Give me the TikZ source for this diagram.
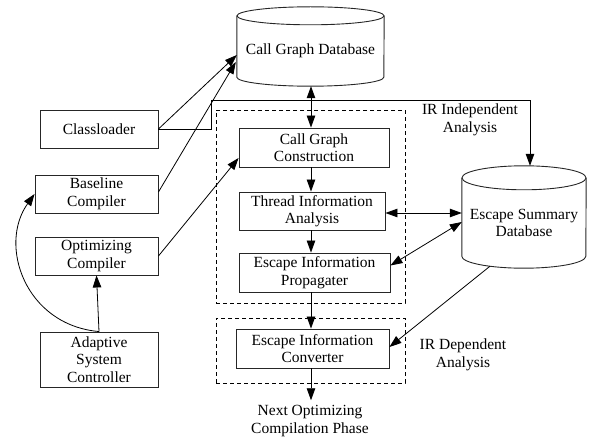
\documentclass[tikz,border=0pt]{standalone}
\usepackage{fontspec}
\setmainfont{Liberation Serif}
\usetikzlibrary{arrows.meta,calc}
\tikzset{
  txt/.style={font=\fontsize{15.5}{17.5}\selectfont, align=center, inner sep=0pt},
  box/.style={txt, draw=black!85, line width=0.9pt, minimum width=#1},
  box/.default=120pt,
  dashbox/.style={draw, line width=0.8pt, dash pattern=on 4pt off 3pt, inner sep=0pt},
  dbshape/.style={draw=black!85, line width=0.9pt},
  arr/.style={line width=0.8pt, -{Triangle[length=12pt,width=8.5pt]}},
  dbl/.style={line width=0.8pt, {Triangle[length=12pt,width=8.5pt]}-{Triangle[length=12pt,width=8.5pt]}}
}
\begin{document}
\begin{tikzpicture}[x=1pt,y=-1pt]
\useasboundingbox (0,0) rectangle (592,441);

% databases
\node[txt, minimum width=147pt, minimum height=70pt] (cgdb) at (310.5,51) {Call Graph Database};
\draw[dbshape] (cgdb.north) ellipse[x radius=73.5pt, y radius=9pt];
\draw[dbshape] (cgdb.north west) -- ($(cgdb.south west)+(0,-9)$)
  arc[start angle=180, end angle=360, x radius=73.5pt, y radius=9pt] -- (cgdb.north east);

\node[txt, minimum width=124pt, minimum height=90pt] (esdb) at (524,223) {Escape Summary\\Database};
\draw[dbshape] (esdb.north) ellipse[x radius=62pt, y radius=12pt];
\draw[dbshape] (esdb.north west) -- ($(esdb.south west)+(0,-12)$)
  arc[start angle=180, end angle=360, x radius=62pt, y radius=12pt] -- (esdb.north east);

% dashed groups
\node[dashbox, minimum width=189pt, minimum height=193pt] (grp1) at (310.5,206.5) {};
\node[dashbox, minimum width=189pt, minimum height=65pt] (grp2) at (310.5,350.5) {};

% left boxes
\node[box=118pt, minimum height=38pt] (cl) at (99,129) {Classloader};
\node[box=123pt, minimum height=38pt] (bc) at (96.5,194) {Baseline\\Compiler};
\node[box=123pt, minimum height=38pt] (oc) at (96.5,256) {Optimizing\\Compiler};
\node[box=118pt, minimum height=55pt] (asc) at (99,359.5) {Adaptive\\System\\Controller};

% middle boxes
\node[box=150pt, minimum height=39pt] (cgc) at (314,147.5) {Call Graph\\Construction};
\node[box=146pt, minimum height=38pt] (tia) at (312,211) {Thread Information\\Analysis};
\node[box=151pt, minimum height=39pt] (eip) at (314.5,272.5) {Escape Information\\Propagater};
\node[box=153pt, minimum height=39pt] (eic) at (312.5,348.5) {Escape Information\\Converter};

% labels
\node[txt] (irind) at (470,120) {IR Independent\\Analysis};
\node[txt] (irdep) at (463,355) {IR Dependent\\Analysis};
\node[txt] (next) at (310,421) {Next Optimizing\\Compilation Phase};

% helper coordinates
\coordinate (col) at (311,0);
\coordinate (bend) at (211,100);
\coordinate (topright) at (530,100);
\coordinate (esb) at ($(esdb.south)+(-34,-2)$);

% middle column
\draw[dbl] (cgdb.south -| col) -- (cgc.north -| col);
\draw[arr] (cgc.south -| col) -- (tia.north -| col);
\draw[arr] (tia.south -| col) -- (eip.north -| col);
\draw[arr] (eip.south -| col) -- (eic.north -| col);
\draw[arr] (eic.south -| col) -- ($(next.north -| col)+(0,-5)$);

% escape summary connections
\draw[dbl] ($(tia.east)+(0,2)$) -- ($(tia.east -| esdb.west)+(0,2)$);
\draw[dbl] ($(esdb.west)+(0,-1)$) -- ($(eip.east)+(0,-7)$);
\draw[arr] (esb) -- ($(eic.east)+(0,-1.5)$);

% classloader
\draw[arr] (cl.east) -- ($(cgdb.west)+(0,4)$);
\draw[arr] (cl.east) -- (cl.east -| bend) -- (bend) -- (topright) -- ($(topright |- esdb.north)+(0,-12)$);

% compilers
\draw[arr] ($(bc.east)+(0,-2)$) -- ($(cgdb.west)+(-1,11)$);
\draw[arr] (oc.east) -- ($(cgc.west)+(0,10.5)$);
\draw[arr] (asc.north) -- (oc.south);
\draw[arr] (asc.north) .. controls (25,325) and (-2,245) .. (bc.west);
\end{tikzpicture}
\end{document}
